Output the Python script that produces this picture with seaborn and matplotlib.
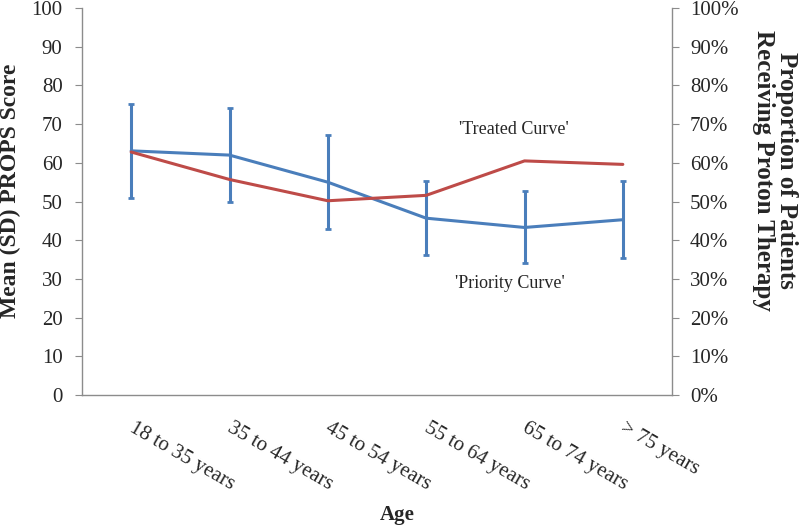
import numpy as np
import pandas as pd
import seaborn as sns
import matplotlib.pyplot as plt
import matplotlib.transforms as mtrans

# values
age_groups = ['18 to 35 years', '35 to 44 years', '45 to 54 years',
              '55 to 64 years', '65 to 74 years', '> 75 years']
props_mean = [63.1, 62.0, 55.0, 45.7, 43.3, 45.3]
props_sd = [12.2, 12.1, 12.2, 9.6, 9.3, 10.0]
treated_pct = [62.8, 55.7, 50.2, 51.6, 60.5, 59.6]

blue = '#4A7EBB'
red = '#BE4B48'
grey = '#8C8C8C'

sns.set_style('white')
plt.rcParams['font.family'] = ['Liberation Serif', 'DejaVu Serif']

df = pd.DataFrame({'age': age_groups, 'pos': np.arange(len(age_groups)),
                   'mean': props_mean, 'sd': props_sd, 'treated': treated_pct})

fig = plt.figure(figsize=(8, 5.26), dpi=100)
ax = fig.add_axes([0.1025, 0.249, 0.7375, 0.7357])
ax2 = ax.twinx()

# priority curve (left axis) with SD bars
sns.lineplot(data=df, x='pos', y='mean', ax=ax, color=blue, linewidth=2.2)
ax.errorbar(df['pos'], df['mean'], yerr=df['sd'], fmt='none', ecolor=blue,
            elinewidth=2.2, capsize=2, capthick=2)

# treated curve (right axis, percent)
sns.lineplot(data=df, x='pos', y='treated', ax=ax2, color=red, linewidth=2.2)

ax.set_xlim(-0.5, len(age_groups) - 0.5)
ax.set_ylim(0, 100)
ax2.set_ylim(0, 100)
ax.set_yticks(np.arange(0, 101, 10))
ax2.set_yticks(np.arange(0, 101, 10))
ax2.set_yticklabels([f'{v}%' for v in range(0, 101, 10)])

ax.set_xticks(df['pos'])
ax.set_xticklabels(age_groups, rotation=-30, ha='left', va='top',
                   rotation_mode='anchor')
ax.set_xticks(np.arange(-0.5, len(age_groups), 1), minor=True)
ax.tick_params(axis='x', which='major', length=0, pad=17, labelsize=15)
ax.tick_params(axis='x', which='minor', length=5, color=grey, direction='out')
shift = mtrans.ScaledTranslation(4 / 100, 0, fig.dpi_scale_trans)
for lab in ax.get_xticklabels():
    lab.set_transform(lab.get_transform() + shift)

ax.tick_params(axis='y', length=5, color=grey, direction='out', labelsize=15, pad=9)
ax2.tick_params(axis='y', length=5, color=grey, direction='out', labelsize=15, pad=8)

for a in (ax, ax2):
    a.spines['top'].set_visible(False)
    for s in ('left', 'right', 'bottom'):
        a.spines[s].set_color(grey)
        a.spines[s].set_linewidth(1)
ax.spines['right'].set_visible(False)
ax2.spines['left'].set_visible(False)
ax2.spines['bottom'].set_visible(False)

ax.set_xlabel('')
ax.set_ylabel('')
ax2.set_ylabel('')
fig.text(10 / 800, 1 - 191 / 526, 'Mean (SD) PROPS Score', fontsize=17,
         fontweight='bold', rotation=90, ha='center', va='center')
fig.text(775 / 800, 1 - 170 / 526, 'Proportion of Patients\nReceiving Proton Therapy',
         fontsize=18, fontweight='bold', rotation=-90, ha='center', va='center',
         multialignment='center', linespacing=1.05)
fig.text(397 / 800, 1 - 515 / 526, 'Age', fontsize=15, fontweight='bold',
         ha='center', va='center')

ax.text(3.895, 68.5, "'Treated Curve'", fontsize=13, ha='center', va='center')
ax.text(3.85, 28.7, "'Priority Curve'", fontsize=13, ha='center', va='center')

fig.savefig('out.png', dpi=100)
